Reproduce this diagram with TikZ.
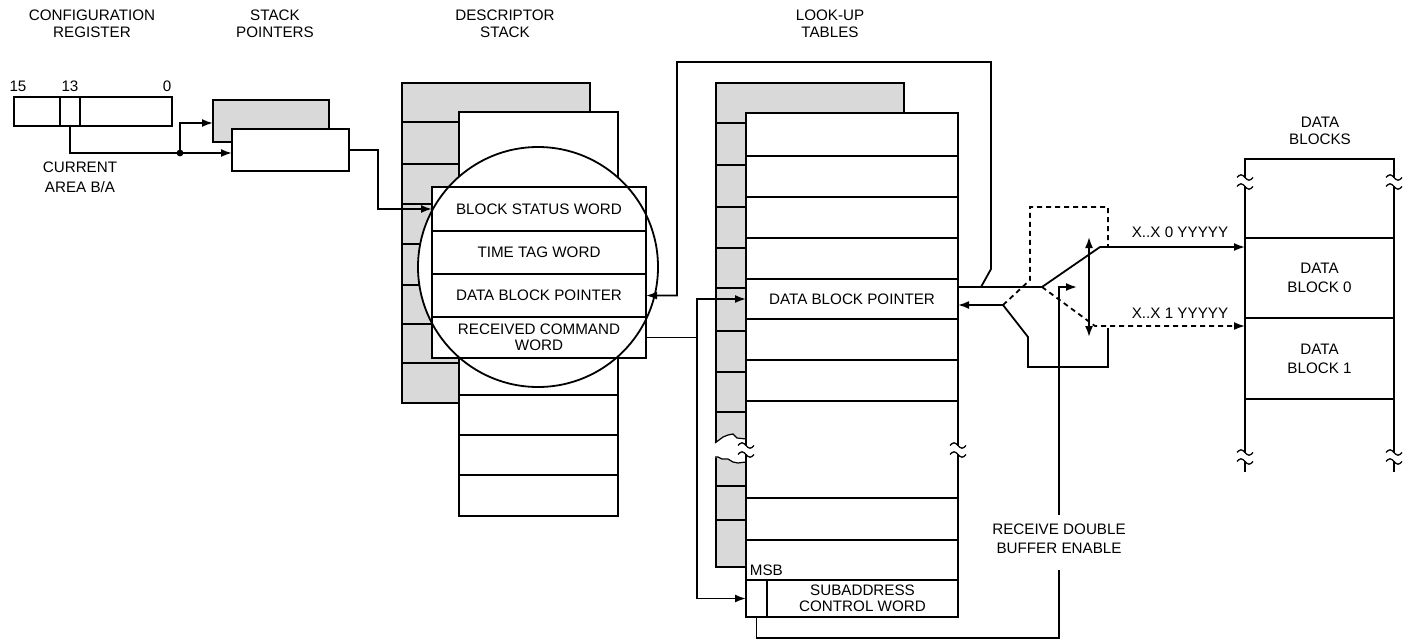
\documentclass[tikz,border=0pt]{standalone}
\usepackage{fontspec}
\setmainfont{Liberation Sans}
\usetikzlibrary{arrows.meta}
\definecolor{gfill}{HTML}{D9D9D9}
\newcommand\dfont{\fontsize{15.2}{16.5}\selectfont}
\begin{document}
\begin{tikzpicture}[x=1pt,y=-1pt,line width=1.8pt,
  cell/.style={draw, fill=white, inner sep=0pt, outer sep=0pt, anchor=north west, align=center, font=\dfont},
  lbl/.style={inner sep=0pt, align=center, font=\dfont},
  arr/.style={-{Latex[length=11pt,width=8pt]}},
  darr/.style={{Latex[length=11pt,width=8pt]}-{Latex[length=11pt,width=8pt]}},
  dsh/.style={dash pattern=on 5pt off 4pt},
  brk/.pic={
    \fill[white] (-1.8,-4) rectangle (1.8,4);
    \draw[line width=1.3pt] (-8,-4.5) sin (-4,-7.2) cos (0,-4.5) sin (4,-1.8) cos (8,-4.5);
    \draw[line width=1.3pt] (-8,4.5) sin (-4,1.8) cos (0,4.5) sin (4,7.2) cos (8,4.5);
  }]
\useasboundingbox (0,0) rectangle (1413,640);

% titles
\node[lbl] (t1) at (92,24) {CONFIGURATION\\REGISTER};
\node[lbl] (t2) at (275,24) {STACK\\POINTERS};
\node[lbl] (t3) at (505,24) {DESCRIPTOR\\STACK};
\node[lbl] (t4) at (830,24) {LOOK-UP\\TABLES};
\node[lbl] (t5) at (1320,131) {DATA\\BLOCKS};

% configuration register
\node[lbl] (b15) at (18,86) {15};
\node[lbl] (b13) at (70,86) {13};
\node[lbl] (b0) at (167,86) {0};
\node[cell, minimum width=46, minimum height=29] (cfgA) at (14,97) {};
\node[cell, minimum width=20, minimum height=29] (cfgB) at (60,97) {};
\node[cell, minimum width=92, minimum height=29] (cfgC) at (80,97) {};
\node[lbl] (cur) at (80,177) {CURRENT\\[3.5pt]AREA B/A};

% stack pointers
\node[cell, fill=gfill, minimum width=116, minimum height=42] (spB) at (213,100) {};
\node[cell, minimum width=117, minimum height=42] (spA) at (232,129) {};
\coordinate (j) at (180,153);
\draw[arr] (cfgB.south) |- ([yshift=-3pt]spA.west);
\fill (j) circle (3.4);
\draw[arr] (j) |- ([yshift=-2pt]spB.west);

% descriptor stack
\node[cell, fill=gfill, minimum width=188, minimum height=320] (dgray) at (402,83) {};
\foreach \y in {122,164,204,244,285,324,363} \draw (402,\y) -- (459,\y);
\node[cell, minimum width=159, minimum height=404] (dwhite) at (459,112) {};
\foreach \y in {395,435,475} \draw (459,\y) -- (618,\y);
\fill[white] (538,267) circle (120);
\node[cell, minimum width=214, minimum height=44] (bsw) at (432,187) {BLOCK STATUS WORD};
\node[cell, minimum width=214, minimum height=43] (ttw) at (432,231) {TIME TAG WORD};
\node[cell, minimum width=214, minimum height=43] (dbp1) at (432,274) {DATA BLOCK POINTER};
\node[cell, minimum width=214, minimum height=41] (rcw) at (432,317) {RECEIVED COMMAND\\WORD};
\node[circle, draw, minimum size=240, inner sep=0pt] (mag) at (538,267) {};

\draw[arr] (spA.east) -- ++(29,0) |- (bsw.west);

% look-up tables
\node[cell, fill=gfill, minimum width=188, minimum height=484] (lgray) at (716,83) {};
\foreach \y in {123,165,207,248,288,331,372,412,486,520} \draw (716,\y) -- (746,\y);
\fill[white] (710,444) -- (715,443) -- (719,440) -- (723,437) -- (728,435) -- (733,434) -- (737,438) -- (747,439)
  -- (747,462) -- (738,463) -- (733,462) -- (728,459) -- (722,459) -- (718,457) -- (714,458) -- (710,458) -- cycle;
\draw[line width=1.2pt] (715,443) -- (719,440) -- (723,437) -- (728,435) -- (733,434) -- (737,438) -- (746,439);
\draw[line width=1.2pt] (715,457) -- (718,457) -- (722,459) -- (728,459) -- (733,462) -- (738,463) -- (746,462);
\node[cell, minimum width=212, minimum height=504] (lwhite) at (746,113) {};
\foreach \y in {156,197,238,360,401,498,540} \draw (746,\y) -- (958,\y);
\node[cell, minimum width=212, minimum height=40] (dbp2) at (746,279) {DATA BLOCK POINTER};
\node[lbl, anchor=west] (msbl) at (749,570) {MSB};
\node[cell, minimum width=21, minimum height=37] (msb) at (746,580) {};
\node[cell, minimum width=191, minimum height=37] (sacw) at (767,580) {SUBADDRESS\\[-1pt]CONTROL WORD};
\pic at (746,450) {brk};
\pic at (958,450) {brk};

% data blocks
\draw (1245,472) -- (1245,159) -- (1394,159) -- (1394,472);
\node[cell, minimum width=149, minimum height=80] (db0) at (1245,238) {DATA\\[2.5pt]BLOCK 0};
\node[cell, minimum width=149, minimum height=81] (db1) at (1245,318) {DATA\\[2.5pt]BLOCK 1};
\draw (1245,399) -- (1394,399);
\pic at (1245,182) {brk};
\pic at (1394,182) {brk};
\pic at (1245,457) {brk};
\pic at (1394,457) {brk};

% loop from look-up table to descriptor
\coordinate (lp1) at (981,287);
\draw[arr] (lp1) -- (991,269) -- (991,62) -- (677,62) |- (dbp1.east);

% switch
\coordinate (piv) at (1042,287);
\coordinate (in0) at (1245,247);
\coordinate (in1) at (1245,326);
\coordinate (rt) at (1003,305);
\draw ([yshift=12pt]dbp2.east) -- (piv);
\draw[arr] (piv) -- (1100,247) -- (in0);
\draw[arr, dsh] (piv) -- (1095,326) -- (in1);
\draw[dsh] (rt) -- (1030,280) -- (1030,207) -- (1108,207) -- (1108,247);
\draw[arr] (1108,328) -- (1108,367) -- (1028,367) -- (1028,337) -- (rt) -- ([yshift=-6pt]dbp2.east);
\draw[darr] (1089,237) -- (1089,337);
\node[lbl] (x0) at (1180,232) {X..X 0 YYYYY};
\node[lbl] (x1) at (1180,313) {X..X 1 YYYYY};

% receive double buffer enable
\node[lbl] (rdbe) at (1059,539) {RECEIVE DOUBLE\\[3pt]BUFFER ENABLE};
\coordinate (r1) at (1059,515);
\coordinate (r2) at (1059,570);
\draw[arr] (r1) -- (1059,287) -- (1077,287);
\draw (r2) -- (1059,638) -| (msb.south);

% received command word
\coordinate (cj) at (697,337.5);
\draw (rcw.east) -- (cj);
\draw[arr] (cj) |- (dbp2.west);
\draw[arr] (cj) |- (msb.west);
\end{tikzpicture}
\end{document}
